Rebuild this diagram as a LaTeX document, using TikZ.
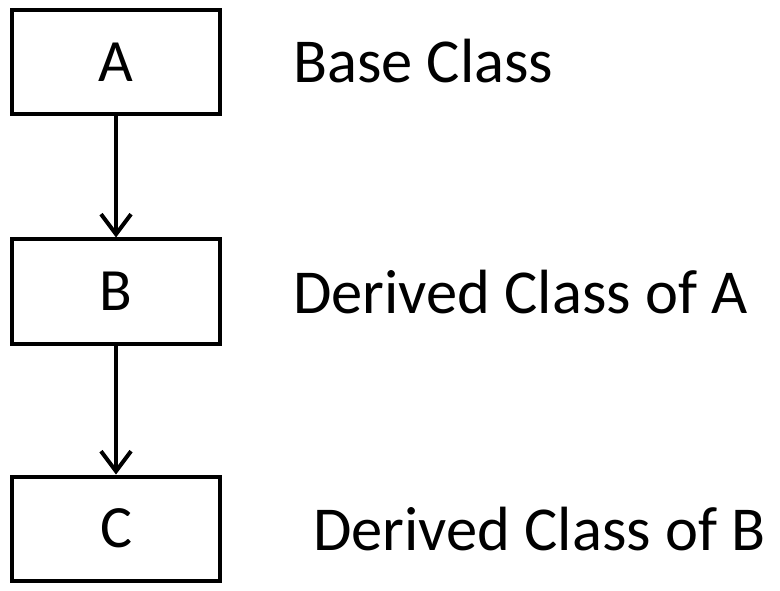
\documentclass[tikz,border=0pt]{standalone}
\usepackage{fontspec}
\setmainfont{Carlito}
\usetikzlibrary{arrows.meta}
\tikzset{
  classbox/.style={draw=black, line width=4pt, minimum width=208pt, minimum height=104pt, inner sep=0pt, font=\fontsize{60}{66}\selectfont},
  label/.style={anchor=base west, inner sep=0pt, font=\fontsize{62.5}{68}\selectfont},
  inherit/.style={line width=4pt, -{Straight Barb[length=20pt,width=30pt,line width=4pt]}}
}
\begin{document}
\begin{tikzpicture}[x=1pt,y=-1pt]
\useasboundingbox (0,0) rectangle (780,591);
\node[classbox] (a) at (116,62) {A};
\node[classbox] (b) at (116,291.5) {B};
\node[classbox] (c) at (116,528.5) {C};
\node[label] (la) at (293,83) {Base Class};
\node[label] (lb) at (293,313) {Derived Class of A};
\node[label] (lc) at (313,550) {Derived Class of B};
\draw[inherit] (a.south) -- (b.north);
\draw[inherit] (b.south) -- (c.north);
\end{tikzpicture}
\end{document}
